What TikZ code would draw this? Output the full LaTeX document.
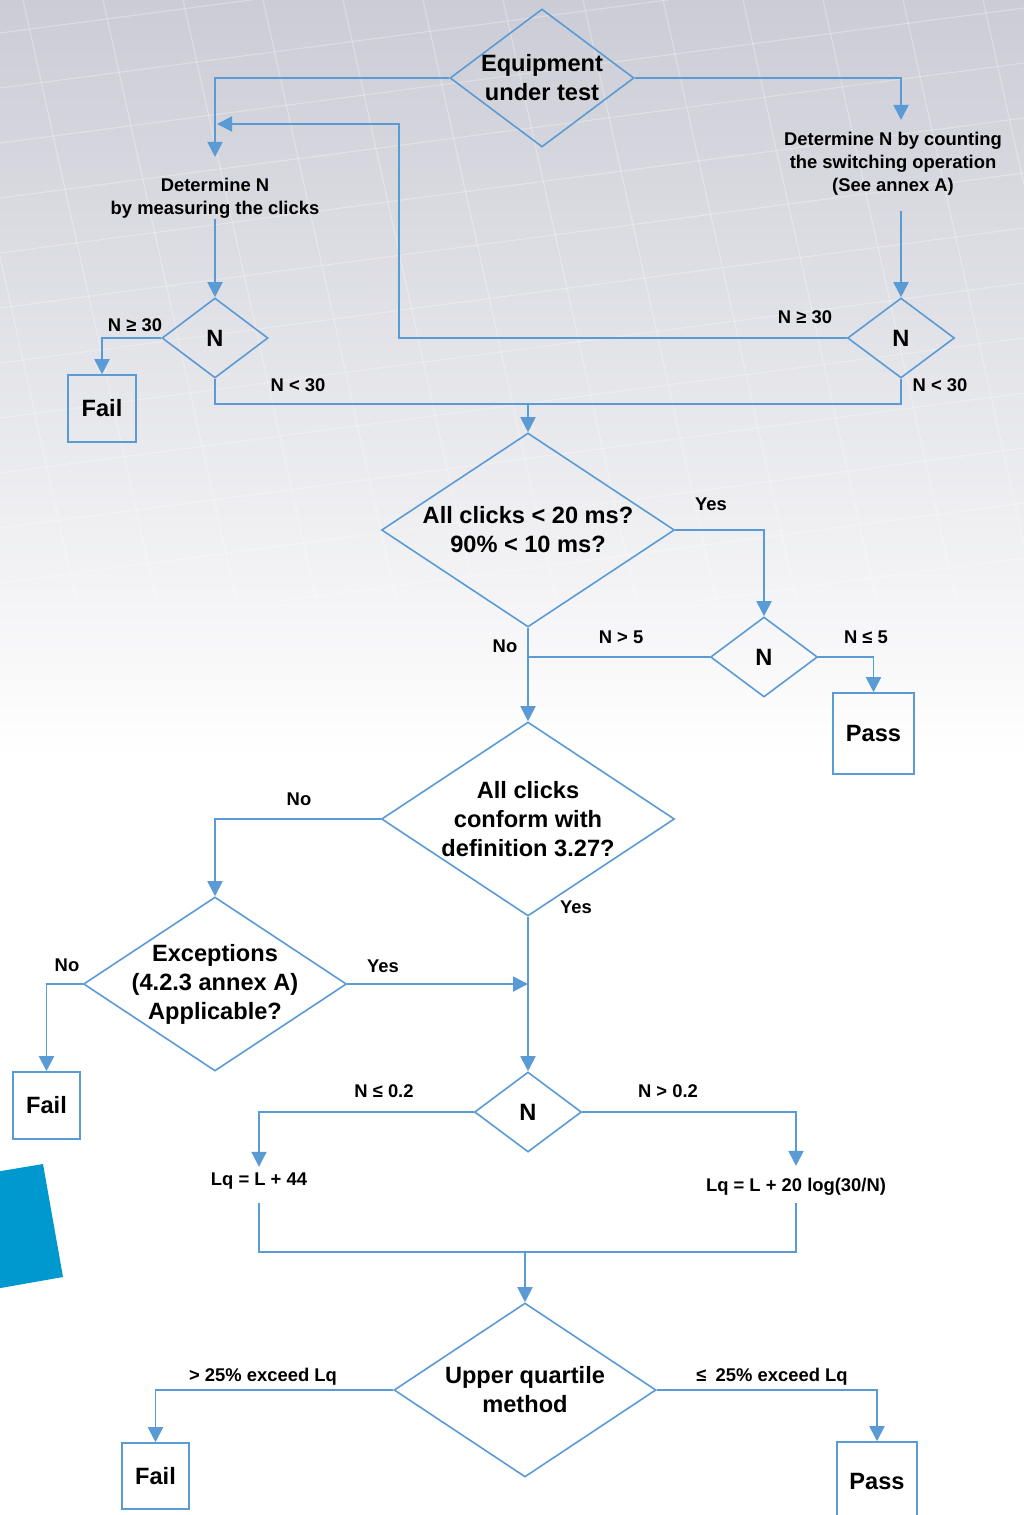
\documentclass[tikz,border=0pt]{standalone}
\usepackage{fontspec}
\setmainfont{Liberation Sans}
\usetikzlibrary{arrows.meta,shapes.geometric}

\definecolor{flow}{HTML}{5B9BD5}
\definecolor{bgtop}{HTML}{CBCCD5}
\definecolor{corner}{HTML}{0099CF}

\newcommand{\bigtxt}{\fontsize{23.6}{29}\selectfont\bfseries}
\newcommand{\smalltxt}{\fontsize{18.4}{23}\selectfont\bfseries}

\begin{document}
\begin{tikzpicture}[x=1pt,y=-1pt,>={Triangle[width=15pt,length=15pt]},line width=1.9pt,
  dec/.style={diamond,draw=flow,line width=1.6pt,inner sep=-8pt,shape aspect=1.5,align=center,font=\bigtxt},
  box/.style={rectangle,draw=flow,line width=1.6pt,inner sep=0pt,font=\bigtxt},
  txt/.style={inner sep=0pt,align=center,font=\smalltxt},
  lbl/.style={inner sep=0pt,font=\smalltxt},
  link/.style={draw=flow},
  gridln/.style={white,opacity=.3,line width=1.1pt}]
  \clip (0,0) rectangle (1024,1515);

  % background
  \fill[white] (0,0) rectangle (1024,1515);
  \shade[top color=bgtop,bottom color=white] (0,0) rectangle (1024,760);
  \begin{scope}
    \clip (0,0) rectangle (1024,600);
    \foreach \gx in {-217,-137,...,1100}
      \draw[gridln] (\gx,0) -- ++(160,720);
    \foreach \gy in {33,88,...,800}
      \draw[gridln] (0,\gy) -- (1024,\gy-135);
  \end{scope}
  \fill[corner] (-5,1172) -- (43,1164) -- (63,1277) -- (-5,1289) -- cycle;

  % nodes
  \node[dec,minimum width=184pt,minimum height=138pt] (eut) at (542,78) {Equipment\\under test};
  \node[txt] (cnt)  at (893,163.5) {Determine N by counting\\the switching operation\\(See annex A)};
  \node[txt] (meas) at (215,198) {Determine N\\by measuring the clicks};
  \node[dec,minimum width=106pt,minimum height=80pt] (nl) at (215,338) {N};
  \node[dec,minimum width=107pt,minimum height=80pt] (nr) at (901,338) {N};
  \node[box,minimum width=68pt,minimum height=67pt] (fail1) at (102,408.5) {Fail};

  \node[dec,minimum width=293pt,minimum height=194pt] (q1) at (528,530) {All clicks < 20 ms?\\90\% < 10 ms?};
  \node[dec,minimum width=107pt,minimum height=80pt] (n5) at (764,657) {N};
  \node[box,minimum width=81pt,minimum height=81pt] (pass1) at (873.5,733.5) {Pass};

  \node[dec,minimum width=293pt,minimum height=194pt] (q2) at (528,819) {All clicks\\conform with\\definition 3.27?};
  \node[dec,minimum width=263pt,minimum height=174pt] (q3) at (215,984) {Exceptions\\(4.2.3 annex A)\\Applicable?};
  \node[box,minimum width=67pt,minimum height=67pt] (fail2) at (46.5,1105.5) {Fail};

  \node[dec,minimum width=107pt,minimum height=80pt] (n02) at (528,1112) {N};
  \node[txt] (lqa) at (259,1181) {Lq = L + 44};
  \node[txt] (lqb) at (796,1186.5) {Lq = L + 20 log(30/N)};

  \node[dec,minimum width=262pt,minimum height=174pt] (uq) at (525,1390) {Upper quartile\\method};
  \node[box,minimum width=67pt,minimum height=66pt] (fail3) at (155.5,1476) {Fail};
  \node[box,minimum width=80pt,minimum height=78pt] (pass2) at (877,1481) {Pass};

  % labels
  \node[lbl] (lge1) at (135,325) {N ≥ 30};
  \node[lbl] (llt1) at (298,385) {N < 30};
  \node[lbl] (lge2) at (805,317) {N ≥ 30};
  \node[lbl] (llt2) at (940,385) {N < 30};
  \node[lbl] (lyes1) at (711,504) {Yes};
  \node[lbl] (lno1) at (505,646) {No};
  \node[lbl] (lgt5) at (621,637) {N > 5};
  \node[lbl] (lle5) at (866,637) {N ≤ 5};
  \node[lbl] (lno2) at (299,799) {No};
  \node[lbl] (lyes2) at (576,907) {Yes};
  \node[lbl] (lno3) at (67,965) {No};
  \node[lbl] (lyes3) at (383,966) {Yes};
  \node[lbl] (lle02) at (384,1091) {N ≤ 0.2};
  \node[lbl] (lgt02) at (668,1091) {N > 0.2};
  \node[lbl] (lfail) at (263,1377) {> 25\% exceed Lq};
  \node[lbl] (lpass) at (772,1377) {≤\enspace 25\% exceed Lq};

  % connectors
  \coordinate (fb) at (217,124);
  \coordinate (j1) at (528,404);
  \coordinate (j2) at (525,1252);

  \draw[link,->,shorten >=20pt] (eut.west) -| (meas.north);
  \draw[link,->,shorten >=11pt] (eut.east) -| (cnt.north -| nr.north);
  \draw[link,->,shorten <=15pt] (cnt.south -| nr.north) -- (nr.north);
  \draw[link,->] (meas.south) -- (nl.north);
  \draw[link,->] (nr.west) -- ++(-448,0) |- (fb);
  \draw[link,->] (nl.west) -| (fail1.north);
  \draw[link] (nl.south) |- (j1) -| (nr.south);
  \draw[link,->] (j1) -- (q1.north);

  \draw[link,->] (q1.east) -| (n5.north);
  \draw[link,->] (n5.east) -| (pass1.north);
  \draw[link] (n5.west) -- (n5.west -| q1.south);
  \draw[link,->] (q1.south) -- (q2.north);

  \draw[link,->] (q2.west) -| (q3.north);
  \draw[link,->] (q3.west) -| (fail2.north);
  \draw[link,->] (q3.east) -- (q3.east -| q2.south);
  \draw[link,->] (q2.south) -- (n02.north);

  \draw[link,->,shorten >=5pt] (n02.west) -| (lqa.north);
  \draw[link,->,shorten >=11pt] (n02.east) -| (lqb.north);
  \draw[link,shorten <=13pt,shorten >=7pt] (lqa.south) |- (j2) -| (lqb.south);
  \draw[link,->] (j2) -- (uq.north);
  \draw[link,->] (uq.west) -| (fail3.north);
  \draw[link,->] (uq.east) -| (pass2.north);
\end{tikzpicture}
\end{document}
